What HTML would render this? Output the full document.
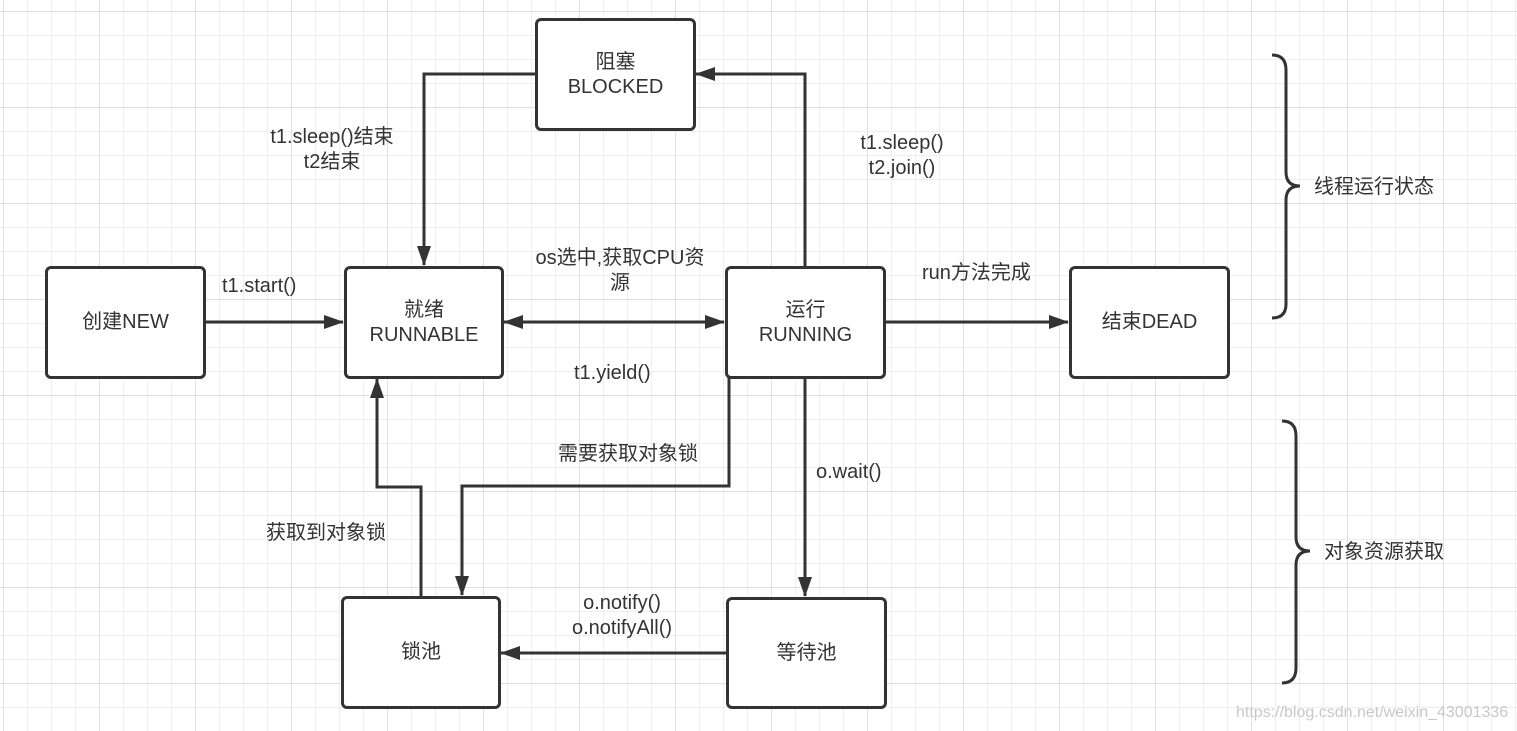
<!DOCTYPE html>
<html><head><meta charset="utf-8"><style>
html,body{margin:0;padding:0;background:#fff}
body{width:1517px;height:731px;overflow:hidden;position:relative;font-family:"Liberation Sans","Noto Sans CJK SC",sans-serif}
.grid{position:absolute;inset:0;
background-image:
linear-gradient(to right,#e0e0e0 1px,transparent 1px),
linear-gradient(to bottom,#e0e0e0 1px,transparent 1px),
linear-gradient(to right,#eeeeee 1px,transparent 1px),
linear-gradient(to bottom,#eeeeee 1px,transparent 1px);
background-size:96px 96px,96px 96px,24px 24px,24px 24px;
background-position:3px 11px,3px 11px,3px 11px,3px 11px;}
.b{position:absolute;box-sizing:border-box;border:3px solid #333;border-radius:6px;background:#fff;display:flex;align-items:center;justify-content:center;text-align:center;font-size:20px;color:#333;line-height:25px}
.t{position:absolute;font-size:20px;color:#333;text-align:center;line-height:25px;white-space:nowrap}
</style></head><body>
<div class="grid"></div>
<svg width="1517" height="731" style="position:absolute;left:0;top:0">
<defs>
<marker id="ah" markerWidth="20" markerHeight="14" refX="19" refY="7" orient="auto-start-reverse" markerUnits="userSpaceOnUse"><path d="M0,0 L20,7 L0,14 z" fill="#333"/></marker></defs>
<g stroke="#333" stroke-width="3" fill="none">
<path d="M205 322 H343" marker-end="url(#ah)"/>
<path d="M504 322 H724" marker-start="url(#ah)" marker-end="url(#ah)"/>
<path d="M886 322 H1068" marker-end="url(#ah)"/>
<path d="M805 266 V74 H696" marker-end="url(#ah)"/>
<path d="M535 74 H424 V265" marker-end="url(#ah)"/>
<path d="M805 378 V596" marker-end="url(#ah)"/>
<path d="M729 378 V486 H462 V595" marker-end="url(#ah)"/>
<path d="M421 596 V487 H377 V379" marker-end="url(#ah)"/>
<path d="M726 653 H501" marker-end="url(#ah)"/>
<path d="M1272 55 Q1286 55 1286 70 V172 Q1286 186 1300 186 Q1286 186 1286 200 V304 Q1286 318 1272 318"/>
<path d="M1282 421 Q1296 421 1296 436 V537 Q1296 551 1310 551 Q1296 551 1296 565 V668 Q1296 683 1282 683"/>
</g></svg>
<div class="b" style="left:45px;top:266px;width:161px;height:113px">创建NEW</div>
<div class="b" style="left:344px;top:266px;width:160px;height:113px">就绪<br>RUNNABLE</div>
<div class="b" style="left:725px;top:266px;width:161px;height:113px">运行<br>RUNNING</div>
<div class="b" style="left:1069px;top:266px;width:161px;height:113px">结束DEAD</div>
<div class="b" style="left:535px;top:18px;width:161px;height:113px">阻塞<br>BLOCKED</div>
<div class="b" style="left:341px;top:596px;width:160px;height:113px">锁池</div>
<div class="b" style="left:726px;top:597px;width:161px;height:112px">等待池</div>
<div class="t" style="left:222px;top:274px">t1.start()</div>
<div class="t" style="left:252px;top:125px;width:160px">t1.sleep()结束<br>t2结束</div>
<div class="t" style="left:520px;top:246px;width:200px">os选中,获取CPU资<br>源</div>
<div class="t" style="left:574px;top:361px">t1.yield()</div>
<div class="t" style="left:832px;top:131px;width:140px">t1.sleep()<br>t2.join()</div>
<div class="t" style="left:922px;top:261px">run方法完成</div>
<div class="t" style="left:558px;top:442px">需要获取对象锁</div>
<div class="t" style="left:816px;top:460px">o.wait()</div>
<div class="t" style="left:266px;top:521px">获取到对象锁</div>
<div class="t" style="left:552px;top:591px;width:140px">o.notify()<br>o.notifyAll()</div>
<div class="t" style="left:1314px;top:175px">线程运行状态</div>
<div class="t" style="left:1324px;top:540px">对象资源获取</div>
<div class="t" style="left:1236px;top:700px;font-size:16px;color:#c8c8c8">https://blog.csdn.net/weixin_43001336</div>
</body></html>
